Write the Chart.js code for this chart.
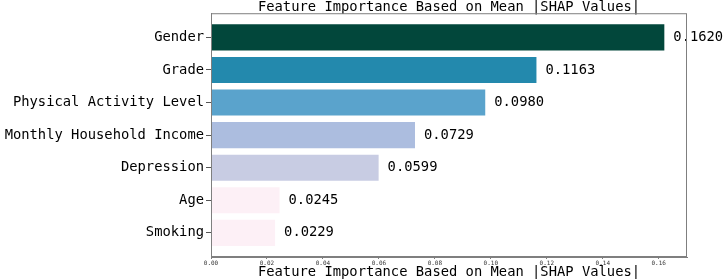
<!DOCTYPE html>
<html>
<head>
<meta charset="utf-8">
<script src="https://cdn.jsdelivr.net/npm/chart.js@4/dist/chart.umd.min.js"></script>
<style>
  html, body { margin: 0; padding: 0; background: #fff; }
  #wrap { width: 723px; height: 279px; }
</style>
</head>
<body>
<div id="wrap"><canvas id="shapChart"></canvas></div>
<script>
// Feature names, top to bottom
const features = ['Gender', 'Grade', 'Physical Activity Level', 'Monthly Household Income', 'Depression', 'Age', 'Smoking'];
// Mean |SHAP| values
const shapValues = [0.1620, 0.1163, 0.0980, 0.0729, 0.0599, 0.0245, 0.0229];
const barColors = ['#02473b', '#2389ad', '#5aa3cc', '#acbddf', '#c8cce3', '#fdf0f6', '#fdf0f6'];
const xTickStep = 0.02;

const FONT = '"DejaVu Sans Mono", "Liberation Mono", monospace';

// value labels next to each bar
const valueLabels = {
    id: 'valueLabels',
    afterDatasetsDraw(chart) {
        const ctx = chart.ctx;
        const meta = chart.getDatasetMeta(0);
        ctx.save();
        ctx.font = '13.8px ' + FONT;
        ctx.fillStyle = '#000';
        ctx.textAlign = 'left';
        ctx.textBaseline = 'middle';
        meta.data.forEach((bar, i) => {
            ctx.fillText(shapValues[i].toFixed(4), bar.x + 9, bar.y);
        });
        ctx.restore();
    }
};

// box around the plot area
const frame = {
    id: 'frame',
    afterDraw(chart) {
        const { ctx, chartArea: a } = chart;
        ctx.save();
        ctx.strokeStyle = '#7f7f7f';
        ctx.lineWidth = 1;
        ctx.strokeRect(a.left + 0.5, a.top + 0.5, a.right - a.left - 1, a.bottom - a.top - 1);
        ctx.restore();
    }
};

new Chart(document.getElementById('shapChart').getContext('2d'), {
    type: 'bar',
    data: {
        datasets: [{
            data: shapValues.map((v, i) => ({ x: v, y: i })),
            backgroundColor: barColors,
            borderWidth: 0,
            barPercentage: 0.8,
            categoryPercentage: 1.0
        }]
    },
    options: {
        indexAxis: 'y',
        responsive: true,
        maintainAspectRatio: false,
        animation: false,
        layout: { padding: { left: 0, right: 36, top: 0, bottom: 0 } },
        plugins: {
            legend: { display: false },
            tooltip: { enabled: false },
            title: {
                display: true,
                fullSize: false,
                text: 'Feature Importance Based on Mean |SHAP Values|',
                color: '#000',
                font: { family: FONT, size: 13.8, weight: 'normal', lineHeight: 0.85 },
                padding: { top: 1.5, bottom: 0 }
            }
        },
        scales: {
            x: {
                type: 'linear',
                min: 0,
                max: shapValues[0] * 1.05,
                grid: { drawOnChartArea: false, drawTicks: true, tickLength: 2, color: '#7f7f7f' },
                border: { color: '#7f7f7f' },
                ticks: {
                    stepSize: xTickStep,
                    includeBounds: false,
                    padding: 1,
                    maxRotation: 0,
                    color: '#333',
                    font: { family: FONT, size: 6 },
                    callback: v => v.toFixed(2)
                },
                title: {
                    display: true,
                    text: 'Feature Importance Based on Mean |SHAP Values|',
                    color: '#000',
                    font: { family: FONT, size: 13.8, lineHeight: 0.95 },
                    padding: { top: 0, bottom: 0 }
                },
                afterFit(scale) { scale.height = 22; }
            },
            y: {
                type: 'linear',
                reverse: true,
                offset: false,
                min: -0.74,
                max: features.length - 1 + 0.74,
                grid: { offset: false, drawOnChartArea: false, drawTicks: true, tickLength: 5, color: '#555' },
                border: { color: '#7f7f7f' },
                ticks: {
                    stepSize: 1,
                    includeBounds: false,
                    padding: 2,
                    color: '#000',
                    font: { family: FONT, size: 13.8 },
                    callback: v => Number.isInteger(v) ? features[v] : ''
                },
                afterFit(scale) { scale.width = 211; }
            }
        }
    },
    plugins: [valueLabels, frame]
});
</script>
</body>
</html>
